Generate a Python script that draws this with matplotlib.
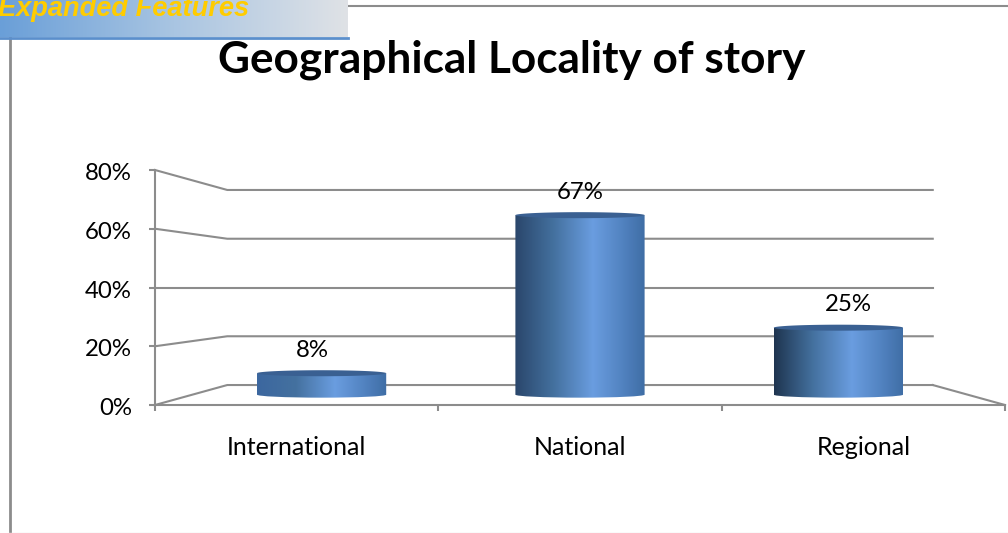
import numpy as np
import matplotlib
matplotlib.use("Agg")
import matplotlib.pyplot as plt
from matplotlib.colors import LinearSegmentedColormap
from matplotlib.patches import PathPatch
from matplotlib.path import Path
from matplotlib.transforms import ScaledTranslation

categories = ["International", "National", "Regional"]
values = [8, 67, 25]
value_labels = ["8%", "67%", "25%"]
y_ticks = [0, 20, 40, 60, 80]
y_tick_labels = ["0%", "20%", "40%", "60%", "80%"]
title = "Geographical Locality of story"
banner = "Expanded Features"

W, H = 1008, 533
FONT = ["Lato", "DejaVu Sans"]
GRAY = "#8c8c8c"
fig = plt.figure(figsize=(W / 100, H / 100), dpi=100, facecolor="white")

# page furniture in pixel coordinates
bg = fig.add_axes([0, 0, 1, 1])
bg.set_xlim(0, W); bg.set_ylim(H, 0); bg.axis("off")
bg.plot([348, W], [5.5, 5.5], color=GRAY, lw=1.5)
bg.plot([9.5, 9.5], [38, H], color=GRAY, lw=2)
bg.plot([9, W], [532.5, 532.5], color="#e8e8e8", lw=1)
cm_b = LinearSegmentedColormap.from_list("b", ["#6a9fd8", "#a9c5e2", "#dfe2e6"])
bg.imshow(np.linspace(0, 1, 256)[None, :], cmap=cm_b, extent=[0, 348, 37, 0], aspect="auto", zorder=2)
bg.plot([0, 348], [37.5, 37.5], color="#5b8fcc", lw=2, zorder=3)
bg.set_xlim(0, W); bg.set_ylim(H, 0)
bg.text(-2, 16, banner, color="#FFCC00", fontsize=19.6, fontweight="bold", fontstyle="italic",
        family="Liberation Sans", ha="left", va="baseline", zorder=4, clip_on=True)
bg.text(512, 72, title, fontsize=31.8, fontweight="bold", family=FONT, ha="center", va="baseline", color="black")

# chart axes: front floor edge and front wall edge
L, R, T, B = 155, 1005, 170, 405
ax = fig.add_axes([L / W, 1 - B / H, (R - L) / W, (B - T) / H])
ax.patch.set_alpha(0)
ax.set_xlim(-0.5, 2.5); ax.set_ylim(0, 80)
for s in ["top", "right"]:
    ax.spines[s].set_visible(False)
for s in ["left", "bottom"]:
    ax.spines[s].set_color(GRAY); ax.spines[s].set_linewidth(1.5)
ax.set_yticks(y_ticks); ax.set_yticklabels(y_tick_labels, fontsize=17.3, family=FONT)
ax.set_xticks([-0.5, 0.5, 1.5, 2.5]); ax.set_xticklabels([])
ax.tick_params(axis="both", color=GRAY, width=1.5, length=4.5, pad=12)
ax.tick_params(axis="x", direction="out")
shift = ScaledTranslation(0, -1.5 / 100, fig.dpi_scale_trans)
for lab in ax.get_yticklabels():
    lab.set_transform(lab.get_transform() + shift)
for i, c in enumerate(categories):
    ax.text(i, -14.3, c, fontsize=18, family=FONT, ha="center", va="center", clip_on=False)

BACK, MID, LABEL = 0.83, 0.912, 0.946
def px(x, s): return 1 + (np.asarray(x, float) - 1) * s
def py(y, s): return 40 + (np.asarray(y, float) - 40) * s

# wall gridlines and floor
for v in y_ticks:
    ax.plot([px(-0.5, 1), px(-0.5, BACK), px(2.5, BACK)],
            [v, py(v, BACK), py(v, BACK)], color=GRAY, lw=1.5, zorder=1, clip_on=False,
            solid_joinstyle="miter")
ax.plot([px(2.5, BACK), px(2.5, 1)], [py(0, BACK), 0], color=GRAY, lw=1.5, zorder=1, clip_on=False)

# cylinders
half = 0.25
ry = 3.0 * 80 / (B - T)
left_cols = ["#3c679f", "#2a466b", "#1f3550"]
K = 0.5523
for i, v in enumerate(values):
    xc = float(px(i, MID)); hw = half * MID
    y0, y1 = float(py(0, MID)), float(py(v, MID))
    x0, x2 = xc - hw, xc + hw
    # outline: side walls with bottom front curve bulging downward
    verts = [(x0, y1), (x0, y0),
             (x0, y0 - ry * K), (xc - hw * K, y0 - ry), (xc, y0 - ry),
             (xc + hw * K, y0 - ry), (x2, y0 - ry * K), (x2, y0),
             (x2, y1), (x0, y1)]
    codes = [Path.MOVETO, Path.LINETO, Path.CURVE4, Path.CURVE4, Path.CURVE4,
             Path.CURVE4, Path.CURVE4, Path.CURVE4, Path.LINETO, Path.CLOSEPOLY]
    clip = PathPatch(Path(verts, codes), fc="none", ec="none", transform=ax.transData)
    ax.add_patch(clip)
    cm = LinearSegmentedColormap.from_list(
        "c%d" % i, [(0, left_cols[i]), (0.3, "#44719f"), (0.6, "#6a9de0"), (0.85, "#4f80bd"), (1, "#3f6da5")])
    im = ax.imshow(np.linspace(0, 1, 256)[None, :], cmap=cm, extent=[x0, x2, y0 - ry, y1],
                   aspect="auto", zorder=3, clip_on=True)
    im.set_clip_path(clip)
    t = np.linspace(0, 2 * np.pi, 120)
    ax.fill(xc + hw * np.cos(t), y1 + ry * np.sin(t), color="#3a6092", zorder=4, lw=0)
    ax.text(float(px(i, LABEL)), y1 + 5.6, value_labels[i], fontsize=17.3, family=FONT,
            ha="center", va="baseline", zorder=5)
ax.set_xlim(-0.5, 2.5); ax.set_ylim(0, 80)

fig.savefig("out.png", dpi=100)
